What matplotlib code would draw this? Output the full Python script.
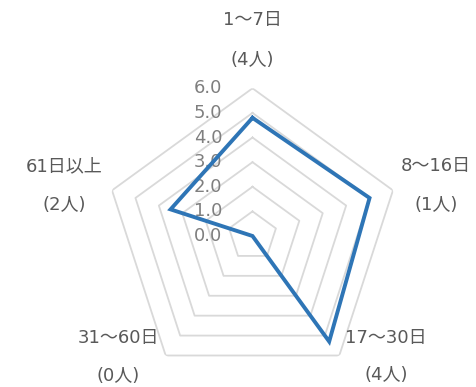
import numpy as np
import matplotlib
matplotlib.use('Agg')
import matplotlib.pyplot as plt
from matplotlib.transforms import offset_copy

plt.rcParams['font.family'] = ['DejaVu Sans', 'Noto Sans CJK JP']

#%% data

categories = ['1～7日', '8～16日', '17～30日', '31～60日', '61日以上']
counts = ['(4人)', '(1人)', '(4人)', '(0人)', '(2人)']
values = [4.8, 5.0, 5.3, 0.0, 3.5]
levels = [1, 2, 3, 4, 5, 6]
tick_labels = ['0.0', '1.0', '2.0', '3.0', '4.0', '5.0', '6.0']

#%% figure

W, H = 476, 387
fig = plt.figure(figsize=(W / 100, H / 100), dpi=100)

cx, cy, rad = 252.5, 236, 147.7
ax = fig.add_axes([(cx - rad) / W, (H - cy - rad) / H, 2 * rad / W, 2 * rad / H],
                  projection='polar')
ax.set_theta_offset(np.pi / 2)
ax.set_theta_direction(-1)
ax.set_ylim(0, 6)
ax.grid(False)
ax.spines['polar'].set_visible(False)
ax.set_xticks([])
ax.set_yticks([])
ax.patch.set_alpha(0)

n = len(categories)
theta = np.linspace(0, 2 * np.pi, n, endpoint=False)
theta_c = np.append(theta, theta[0])

# pentagon grid
for lv in levels:
    ax.plot(theta_c, [lv] * (n + 1), color='#D9D9D9', linewidth=1.3, zorder=1)

# series
ax.plot(theta_c, values + values[:1], color='#2E75B6', linewidth=2.8,
        solid_joinstyle='miter', zorder=3, clip_on=False)

# value axis labels
trans = offset_copy(ax.transData, fig=fig, x=-30, y=0, units='dots')
for i, t in enumerate(tick_labels):
    ax.text(0, i, t, transform=trans, ha='right', va='center',
            fontsize=13, color='#7F7F7F', zorder=2)

# category labels (pixel layout)
label_pos = [(252.5, 19.5, 60), (436, 165.5, 205), (386, 338.5, 375),
             (118.5, 337.5, 376), (64, 166.5, 205)]
for (x, y1, y2), c, p in zip(label_pos, categories, counts):
    fig.text(x / W, 1 - y1 / H, c, ha='center', va='center',
             fontsize=13, color='#595959')
    fig.text(x / W, 1 - y2 / H, p, ha='center', va='center',
             fontsize=13, color='#595959')

fig.savefig('out.png', dpi=100)
